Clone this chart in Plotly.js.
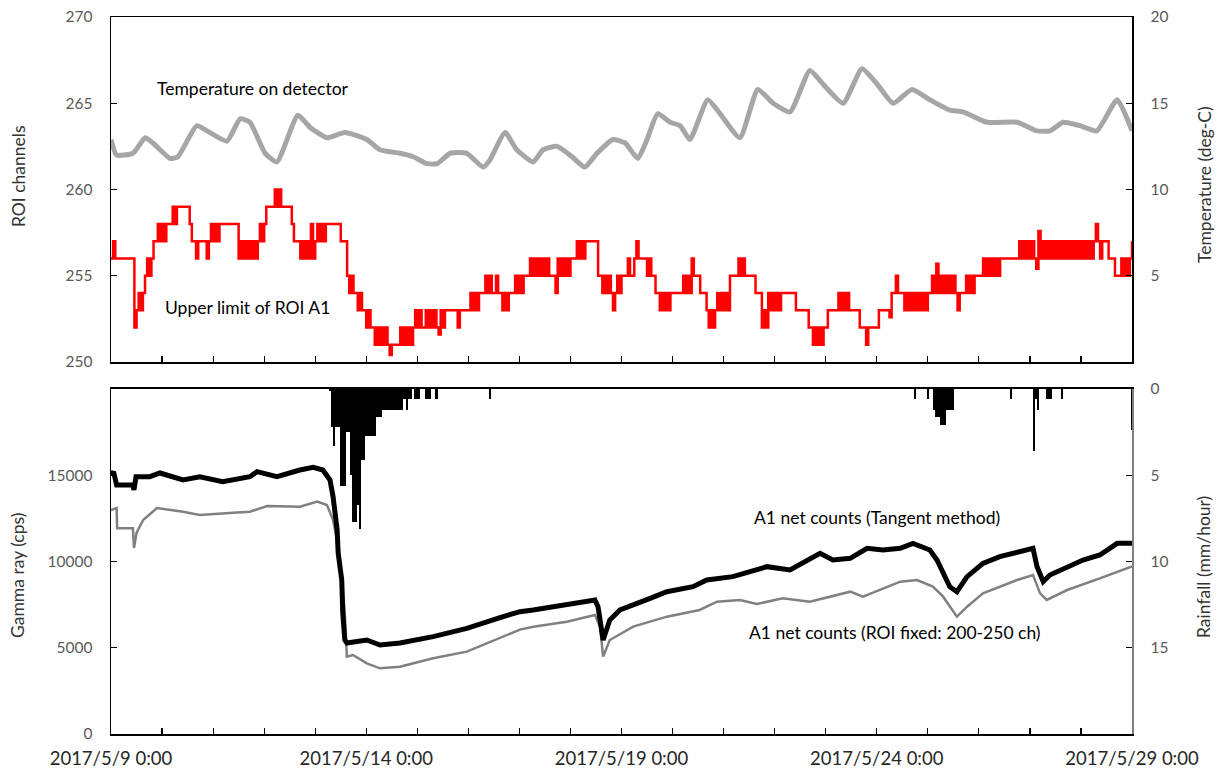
<!DOCTYPE html>
<html><head><meta charset="utf-8">
<script src="https://cdn.plot.ly/plotly-3.0.1.min.js"></script>
<style>html,body{margin:0;padding:0;background:#fff}#chart{width:1218px;height:772px}</style>
</head><body><div id="chart"></div>
<script>
// ---- data (days since 2017/5/9 0:00) ----
const tempDays = [0,0.11,0.43,0.67,0.82,1.16,1.31,1.68,1.88,2.27,2.53,2.72,3.02,3.25,3.66,3.90,4.23,4.58,5.01,5.27,5.66,5.92,6.19,6.39,6.64,6.97,7.29,7.42,7.72,7.95,8.27,8.46,8.74,9.03,9.28,9.52,9.83,10.07,10.32,10.50,10.71,10.95,11.15,11.34,11.69,11.93,12.32,12.67,12.97,13.30,13.69,13.95,14.34,14.71,15.01,15.32,15.69,16.04,16.43,16.69,17.16,17.75,18.14,18.39,18.65,18.98,19.31,19.71,20.0];
const tempValues = [12.9,12.0,12.1,13.0,12.7,11.8,11.9,13.7,13.4,12.8,14.1,13.9,12.1,11.6,14.3,13.6,13.0,13.3,12.9,12.3,12.1,11.9,11.5,11.5,12.1,12.1,11.3,11.7,13.3,12.3,11.6,12.3,12.5,11.9,11.3,12.1,12.9,12.7,11.8,12.9,14.4,13.9,13.7,12.9,15.2,14.4,13.0,15.8,15.0,14.5,16.9,16.1,15.0,17.0,16.1,15.0,15.8,15.2,14.6,14.5,13.9,13.9,13.4,13.4,13.9,13.7,13.4,15.2,13.4];

// Upper limit of ROI A1, hourly values (one row per day)
const roiHourly = [
256,257,256,256,256,256,256,256,256,256,256,252,253,254,253,254,255,256,255,256,257,257,258,257,
258,257,258,258,258,259,258,259,259,259,259,259,259,258,257,257,256,257,257,257,257,256,257,258,
257,258,257,258,258,258,258,258,258,258,258,258,256,257,256,257,256,257,256,257,256,257,258,257,
258,259,259,259,259,260,259,260,259,259,259,259,259,258,257,257,257,256,257,256,257,256,258,256,
257,258,257,258,257,258,258,258,258,258,258,258,257,257,257,255,254,255,254,254,253,254,253,253,
252,253,252,252,251,252,251,252,251,252,251,250.4,251,251,251,251,252,251,252,251,252,251,252,253,
252,253,252,252,253,252,253,252,253,252,251.6,253,252,253,253,253,253,253,253,252,253,253,253,253,
253,254,253,254,253,254,254,254,255,254,255,254,254,255,254,254,253,254,253,254,254,254,255,254,
255,254,255,255,255,256,255,256,255,256,255,256,255,256,255,255,255,254,256,255,256,255,256,255,
256,256,256,257,256,257,256,257,257,257,257,257,257,255,255,254,255,254,255,254,253,254,255,254,
255,255,255,256,255,255,256,257,256,256,256,256,255,256,255,255,254,254,253,254,253,254,253,254,
254,254,254,254,254,255,254,255,254,256,255,255,255,254,254,254,253,252,253,252,253,254,253,254,
253,254,253,255,255,255,255,256,255,256,255,255,255,255,255,254,254,254,252,253,252,254,253,254,
253,254,253,254,254,254,254,254,254,254,253,253,253,253,253,253,252,252,251,252,251,252,251,252,
252,253,253,253,253,253,254,253,254,253,254,253,253,253,253,253,252,252,252,251,252,252,252,252,
252,253,253,253,253,253,252.6,254,254,255,254,254,254,253,254,253,254,253,254,253,254,253,254,253,
254,254,255,254,255.7,254,255,254,255,254,255,254,255,254,253,254,254,254,255,254,255,254,255,255,
255,255,256,255,256,255,256,255,256,255,256,256,256,256,256,256,256,256,256,257,256,257,256,257,
256,257,256,255.4,257.6,256,257,256,257,256,257,256,257,256,257,256,257,256,257,256,257,256,257,256,
257,256,257,256,257,256,257,258,257,256,257,257,257,256,256,256,255,255,255,256,255,256,255,256,257
];

const tangentDays = [0,0.05,0.11,0.43,0.45,0.49,0.76,0.96,1.41,1.74,2.19,2.72,2.86,3.25,3.70,3.96,4.15,4.29,4.35,4.43,4.45,4.52,4.54,4.58,4.62,5.01,5.27,5.66,6.31,6.97,7.62,8.01,8.27,8.93,9.48,9.54,9.64,9.77,9.97,10.56,10.89,11.40,11.67,12.18,12.85,13.30,13.89,14.14,14.48,14.81,15.12,15.46,15.71,16.04,16.18,16.43,16.57,16.77,17.08,17.41,17.75,18.06,18.14,18.26,18.39,18.73,19.04,19.37,19.71,20.0];
const tangentCounts = [15000,15200,14435,14435,14145,14915,14915,15130,14725,14915,14630,14915,15207,14915,15304,15459,15304,14725,13757,11826,10493,8927,7014,5449,5275,5449,5159,5275,5642,6125,6750,7090,7188,7478,7768,7381,5449,6609,7188,7864,8250,8540,8927,9120,9700,9507,10473,10087,10183,10763,10667,10763,11053,10667,10087,8540,8250,9120,9893,10280,10570,10763,9700,8830,9216,9700,10087,10377,11053,11053];

const fixedDays = [0,0.11,0.12,0.43,0.45,0.50,0.63,0.90,1.41,1.74,2.39,2.72,3.06,3.70,4.04,4.23,4.35,4.45,4.52,4.58,4.62,4.74,5.01,5.27,5.66,6.31,6.97,7.62,8.01,8.27,8.93,9.48,9.58,9.64,9.77,10.23,10.89,11.53,11.87,12.32,12.65,13.16,13.69,14.48,14.73,15.46,15.79,16.10,16.30,16.57,16.77,17.08,17.41,17.75,18.06,18.20,18.33,18.73,19.37,19.96,20.0];
const fixedCounts = [12985,13100,11920,11920,10783,11652,12405,13100,12887,12695,12830,12887,13217,13178,13468,13275,12405,10860,8927,7014,4483,4580,4096,3806,3903,4386,4773,5600,6050,6222,6512,6898,6222,4483,5449,6222,6802,7188,7672,7768,7536,7864,7672,8250,7961,8829,8927,8540,7961,6802,7381,8154,8540,8927,9216,8154,7768,8347,9023,9700,9720];

// Rainfall (hours since start, mm/hour)
const rainHours = [103,104,105,106,107,108,109,110,111,112,113,114,115,116,117,118,119,120,121,122,123,124,125,126,127,128,129,130,131,132,133,134,135,136,137,138,139,140,141,143,144,145,148,149,150,153,178,378,384,387,388,389,390,391,392,393,394,395,396,423,434,435,436,440,441,442,447,480];
const rainValues = [0.1,2.2,3.3,2.2,2.2,5.6,5.6,5.6,2.5,2.5,5.0,7.7,7.7,6.7,8.1,4.1,4.1,2.7,2.7,2.7,2.7,2.7,1.6,1.6,1.6,1.2,1.2,1.2,1.2,1.2,1.2,1.2,1.2,1.2,1.2,0.6,1.2,0.6,0.6,0.6,0.6,0.6,0.6,0.6,0.6,0.6,0.6,0.6,0.6,1.2,1.6,1.6,2.1,2.1,2.1,1.2,1.2,1.2,1.2,0.6,3.6,0.6,1.2,0.6,0.6,0.6,0.6,2.4];

const xTickDays = [0,5,10,15,20];

// ---- helpers ----
const t0 = Date.UTC(2017,4,9);
const dayToDate = d => new Date(t0 + Math.round(d*86400000)).toISOString().replace('T',' ').slice(0,19);

const FONT = 'Lato, "Open Sans", "Noto Sans", sans-serif';
const tickGray = '#595959';
const titleColor = '#333333';

const traces = [
  {x: tempDays.map(dayToDate), y: tempValues, xaxis:'x2', yaxis:'y4', mode:'lines',
   line:{color:'#a6a6a6', width:5, shape:'spline', smoothing:0.5}, hoverinfo:'skip'},
  {x: roiHourly.map((v,i)=>dayToDate(i/24)), y: roiHourly, xaxis:'x2', yaxis:'y3', mode:'lines',
   line:{color:'#ff0000', width:2.5, shape:'hv'}, hoverinfo:'skip'},
  {x: fixedDays.map(dayToDate), y: fixedCounts, xaxis:'x', yaxis:'y', mode:'lines',
   line:{color:'#808080', width:2.5}, hoverinfo:'skip'},
  {x: tangentDays.map(dayToDate), y: tangentCounts, xaxis:'x', yaxis:'y', mode:'lines',
   line:{color:'#000000', width:5}, hoverinfo:'skip'},
  {type:'bar', x: rainHours.map(h=>dayToDate(h/24)), y: rainValues, xaxis:'x', yaxis:'y2',
   width: 3600000, marker:{color:'#000000', line:{width:0}}, hoverinfo:'skip'}
];

const xCommon = {
  type:'date', range:[dayToDate(0), dayToDate(20)],
  tickmode:'array', tickvals: xTickDays.map(dayToDate),
  tickformat:'%Y/%-m/%-d %-H:%M',
  ticks:'inside', ticklen:6, tickwidth:1.2, tickcolor:'#000',
  showline:true, linecolor:'#000', linewidth:1.5, mirror:true,
  showgrid:false, zeroline:false,
  minor:{dtick:86400000, tick0:dayToDate(0), ticks:'inside', ticklen:6, tickwidth:1.2, tickcolor:'#000', showgrid:false}
};

const yCommon = {
  ticks:'inside', ticklen:6, tickwidth:1.2, tickcolor:'#000',
  showline:true, linewidth:1.5, linecolor:'#000',
  showgrid:false, zeroline:false, tickformat:'d',
  tickfont:{family:FONT, size:15.5, color:tickGray},
  ticklabelstandoff:14
};

const titleFont = {family:FONT, size:17.5, color:titleColor};
const noteFont = {family:FONT, size:17.5, color:'#000000'};

const layout = {
  width:1218, height:772,
  margin:{l:111, r:86, t:17, b:38},
  paper_bgcolor:'#ffffff', plot_bgcolor:'#ffffff',
  showlegend:false, bargap:0,
  font:{family:FONT, size:15, color:tickGray},
  xaxis: Object.assign({}, xCommon, {anchor:'y', domain:[0,1],
    tickfont:{family:FONT, size:18.5, color:'#262626'}, ticklabelstandoff:7}),
  xaxis2: Object.assign({}, xCommon, {anchor:'y3', domain:[0,1], matches:'x', showticklabels:false}),
  yaxis: Object.assign({}, yCommon, {anchor:'x', domain:[0,0.4812], range:[0,20000],
    tickvals:[0,5000,10000,15000]}),
  yaxis2: Object.assign({}, yCommon, {anchor:'x', overlaying:'y', side:'right', range:[20,0],
    tickvals:[0,5,10,15], linecolor:'#808080'}),
  yaxis3: Object.assign({}, yCommon, {anchor:'x2', domain:[0.5188,1], range:[250,270],
    tickvals:[250,255,260,265,270]}),
  yaxis4: Object.assign({}, yCommon, {anchor:'x2', overlaying:'y3', side:'right', range:[0,20],
    tickvals:[5,10,15,20]}),
  annotations:[
    {text:'ROI channels', xref:'paper', yref:'paper', x:-0.0911, y:0.7782, textangle:-90, xanchor:'center', yanchor:'middle', showarrow:false, font:titleFont},
    {text:'Gamma ray (cps)', xref:'paper', yref:'paper', x:-0.0911, y:0.2218, textangle:-90, xanchor:'center', yanchor:'middle', showarrow:false, font:titleFont},
    {text:'Temperature (deg-C)', xref:'paper', yref:'paper', x:1.0715, y:0.7657, textangle:-90, xanchor:'center', yanchor:'middle', showarrow:false, font:titleFont},
    {text:'Rainfall (mm/hour)', xref:'paper', yref:'paper', x:1.0695, y:0.2329, textangle:-90, xanchor:'center', yanchor:'middle', showarrow:false, font:titleFont},
    {text:'Temperature on detector', xref:'paper', yref:'paper', x:0.0431, y:0.8996, xanchor:'left', yanchor:'middle', showarrow:false, font:noteFont},
    {text:'Upper limit of ROI A1', xref:'paper', yref:'paper', x:0.0509, y:0.5955, xanchor:'left', yanchor:'middle', showarrow:false, font:noteFont},
    {text:'A1 net counts (Tangent method)', xref:'paper', yref:'paper', x:0.6278, y:0.3026, xanchor:'left', yanchor:'middle', showarrow:false, font:noteFont},
    {text:'A1 net counts (ROI fixed: 200-250 ch)', xref:'paper', yref:'paper', x:0.6229, y:0.1409, xanchor:'left', yanchor:'middle', showarrow:false, font:noteFont}
  ]
};

Plotly.newPlot('chart', traces, layout, {displayModeBar:false, staticPlot:true});
</script>
</body></html>
